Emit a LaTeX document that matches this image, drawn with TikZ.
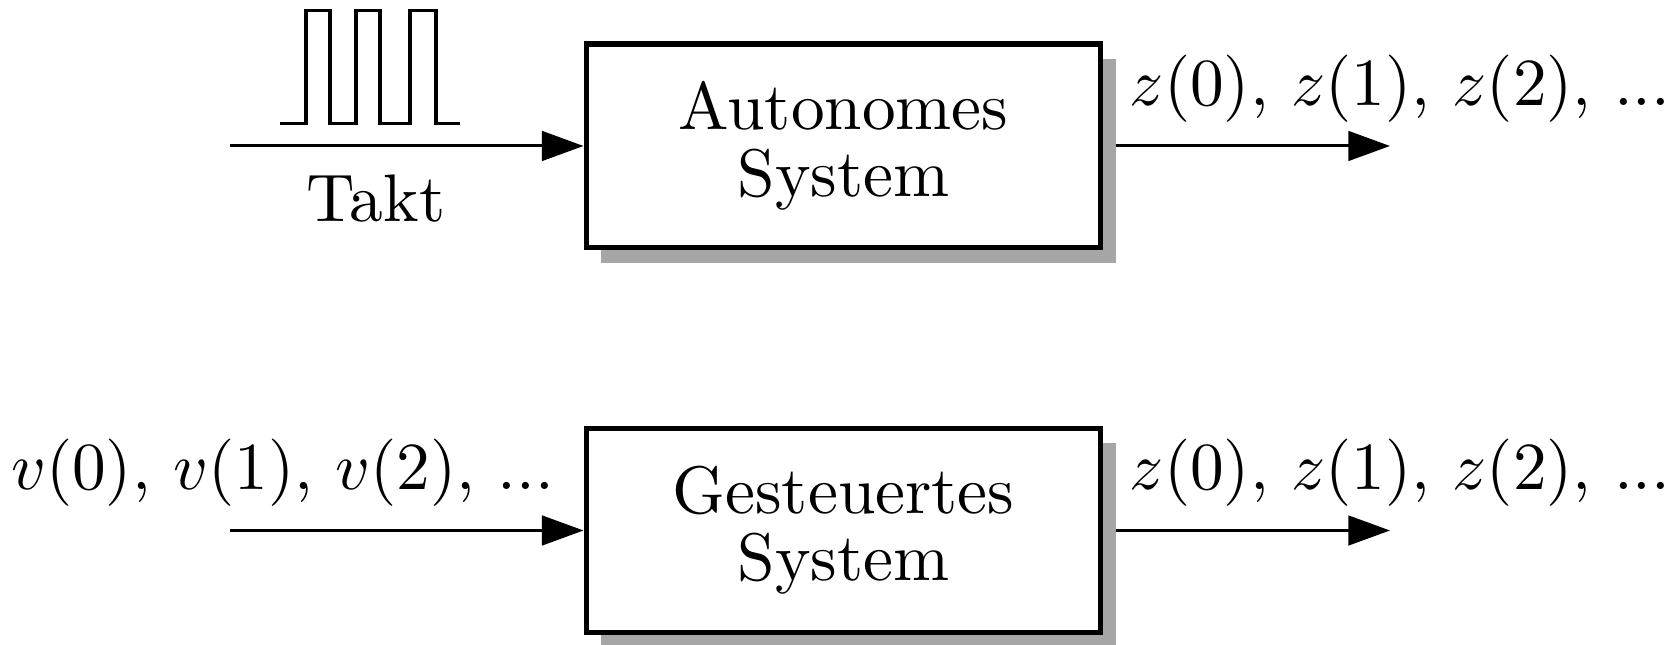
\documentclass[tikz,border=0pt]{standalone}
\usetikzlibrary{arrows.meta,shadows}
\tikzset{
  sysbox/.style={draw, line width=0.75pt, fill=white,
    minimum width=76.5pt, minimum height=30.3pt, inner sep=0pt, align=center,
    drop shadow={shadow xshift=2.2pt, shadow yshift=-2.2pt, fill=black!35, opacity=1}},
  flow/.style={line width=0.45pt, -{Triangle[length=6.2pt,width=4.4pt]}},
  seq/.style={inner sep=3.33pt},
  pulse/.style={line width=0.45pt},
}
\begin{document}
\begin{tikzpicture}[x=0.14859pt, y=-0.14859pt]
\useasboundingbox (0,0) rectangle (1664,645);

% the two systems
\node[sysbox] (auto) at (843.5,146) {Autonomes\\[-2pt]System};
\node[sysbox] (ctrl) at (843.5,530.5) {Gesteuertes\\[-2pt]System};

% free ends of the signal lines
\coordinate (clkIn) at (230,146);
\coordinate (autoOut) at (1390,146);
\coordinate (ctrlIn) at (230,530.5);
\coordinate (ctrlOut) at (1390,530.5);

% clock input with its pulse train
\draw[flow] (clkIn) -- (auto.west);
\draw[pulse] (280,124) -| (306,11) -| (330,124) -| (356,11) -| (380,124)
  -| (410,11) -| (436,124) -- (460,124);
\node[anchor=base] (takt) at (376,222) {Takt};

% outputs and the control input
\draw[flow] ([xshift=1.93pt]auto.east) -- (autoOut);
\node[seq, anchor=south west] (zA) at ([xshift=0.4pt]auto.east) {$z(0)$, $z(1)$, $z(2)$, ...};

\draw[flow] (ctrlIn) -- (ctrl.west);
\node[seq, anchor=south east] (vIn) at ([xshift=-0.9pt]ctrl.west) {$v(0)$, $v(1)$, $v(2)$, ...};

\draw[flow] ([xshift=1.93pt]ctrl.east) -- (ctrlOut);
\node[seq, anchor=south west] (zC) at ([xshift=0.4pt]ctrl.east) {$z(0)$, $z(1)$, $z(2)$, ...};
\end{tikzpicture}
\end{document}
